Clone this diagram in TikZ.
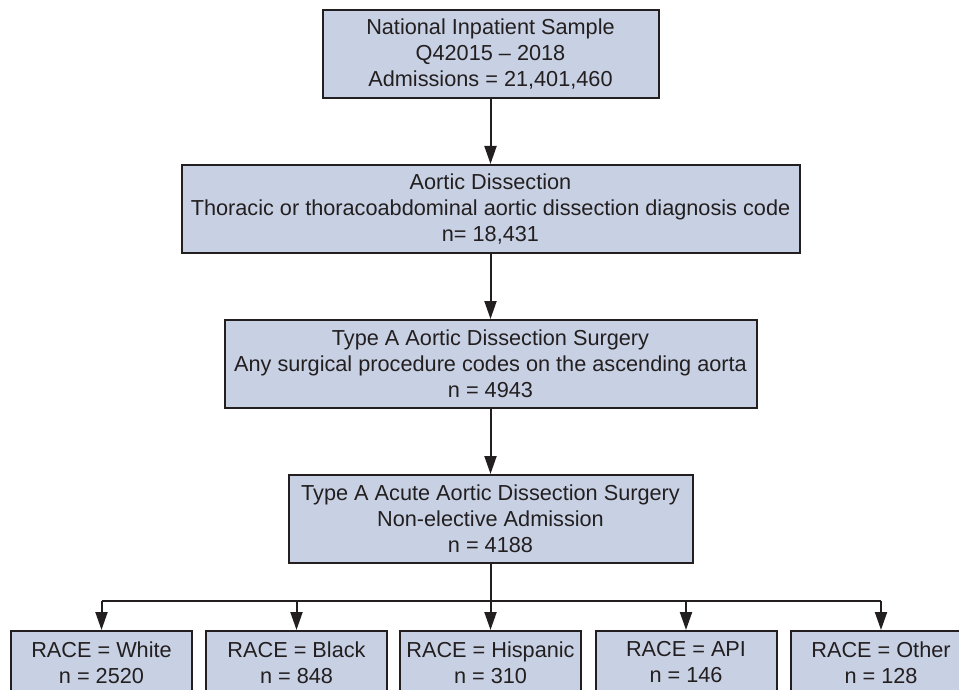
\documentclass[tikz,border=0pt]{standalone}
\usepackage{fontspec}
\setmainfont{Liberation Sans}
\usetikzlibrary{arrows.meta}
\definecolor{boxfill}{RGB}{200,209,227}
\definecolor{ink}{RGB}{35,31,32}

\begin{document}
\begin{tikzpicture}[x=1pt, y=-1pt, line width=2pt, color=ink,
    stage/.style={draw=ink, fill=boxfill, text=ink, align=center, inner sep=0pt,
        font=\fontsize{21.7}{26}\selectfont, minimum height=88pt},
    race/.style={stage, minimum width=181pt, minimum height=63pt},
    flow/.style={draw=ink, -{Triangle[length=18pt,width=12pt]}}]
    \useasboundingbox (0,0) rectangle (959,690);

    \node[stage, minimum width=336pt] (nis) at (490.5,54) {National Inpatient Sample\\Q42015 – 2018\\Admissions = 21,401,460};
    \node[stage, minimum width=618pt] (diss) at (490.5,209) {Aortic Dissection\\Thoracic or thoracoabdominal aortic dissection diagnosis code\\n= 18,431};
    \node[stage, minimum width=532pt] (surg) at (490.5,364) {Type A Aortic Dissection Surgery\\Any surgical procedure codes on the ascending aorta\\n = 4943};
    \node[stage, minimum width=404pt] (acute) at (490.5,519) {Type A Acute Aortic Dissection Surgery\\Non-elective Admission\\n = 4188};

    \node[race] (white) at (101.5,662.5) {RACE = White\\n = 2520};
    \node[race] (black) at (296.5,662.5) {RACE = Black\\n = 848};
    \node[race] (hisp) at (490.5,662.5) {RACE = Hispanic\\n = 310};
    \node[race] (api) at (686,662.5) {RACE = API\\n = 146};
    \node[race] (other) at (881,662.5) {RACE = Other\\n = 128};

    \draw[flow] (nis) -- (diss);
    \draw[flow] (diss) -- (surg);
    \draw[flow] (surg) -- (acute);

    \coordinate (split) at (490.5,601);
    \draw (acute.south) -- (split);
    \draw (white.north |- split) -- (other.north |- split);
    \foreach \grp in {white,black,hisp,api,other}
        \draw[flow] (\grp.north |- split) -- (\grp.north);
\end{tikzpicture}
\end{document}
